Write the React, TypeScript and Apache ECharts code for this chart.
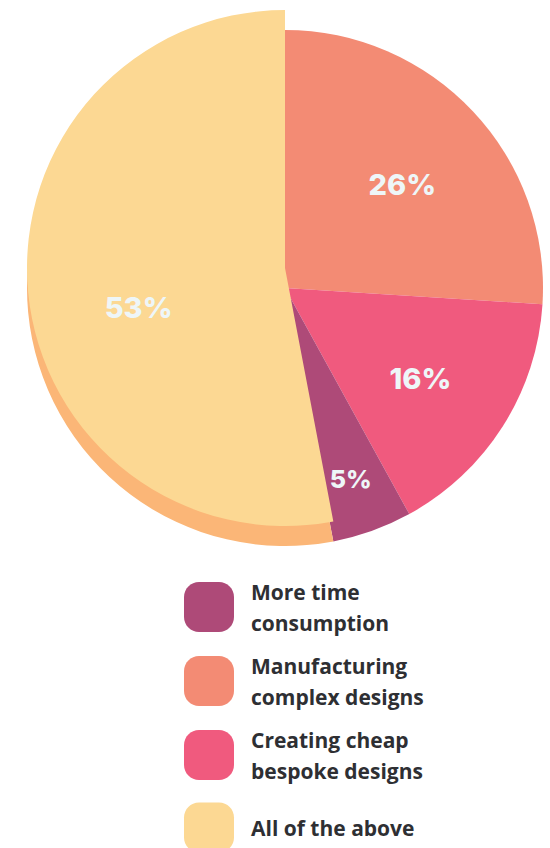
import React, { useEffect, useRef } from "react";
import * as echarts from "echarts";

// Pie slices in drawing order (clockwise from 12 o'clock)
const sliceNames = [
  "Manufacturing complex designs",
  "Creating cheap bespoke designs",
  "More time consumption",
  "All of the above",
];
const sliceValues = [26, 16, 5, 53];
const sliceColors = ["#F38B74", "#F05A7E", "#AE4A78", "#FCD893"];
const shadowColor = "#FBB677";

// Legend order and wrapped labels
const legendOrder = [
  "More time consumption",
  "Manufacturing complex designs",
  "Creating cheap bespoke designs",
  "All of the above",
];
const legendLabels: Record<string, string> = {
  "More time consumption": "More time\nconsumption",
  "Manufacturing complex designs": "Manufacturing\ncomplex designs",
  "Creating cheap bespoke designs": "Creating cheap\nbespoke designs",
  "All of the above": "All of the above",
};

// label placement tweaks (style only)
const labelOffsets: number[][] = [
  [21, -13],
  [24, 20],
  [21, 67],
  [-15, 27],
];
const labelSizes = [29, 29, 25, 29];

const ROUND_RECT =
  "path://M15,0H35C43.28,0 50,6.72 50,15V35C50,43.28 43.28,50 35,50H15C6.72,50 0,43.28 0,35V15C0,6.72 6.72,0 15,0Z";

export default function App() {
  const ref = useRef<HTMLDivElement>(null);

  useEffect(() => {
    document.body.style.margin = "0";
    if (!ref.current) return;
    const chart = echarts.init(ref.current, undefined, { renderer: "svg" });

    const labelBase = {
      show: true,
      position: "inside" as const,
      formatter: "{c}%",
      color: "#EEF6F8",
      fontFamily: "Inter",
      fontWeight: 800 as any,
    };

    const baseData = sliceNames.map((name, i) => {
      const isTop = i === 3;
      return {
        name,
        value: sliceValues[i],
        itemStyle: { color: isTop ? shadowColor : sliceColors[i] },
        label: isTop
          ? { show: false }
          : { ...labelBase, fontSize: labelSizes[i], offset: labelOffsets[i] },
      };
    });

    const topData = sliceNames.map((name, i) => {
      const isTop = i === 3;
      return {
        name,
        value: sliceValues[i],
        itemStyle: { color: isTop ? sliceColors[i] : "rgba(0,0,0,0)" },
        label: isTop
          ? { ...labelBase, fontSize: labelSizes[i], offset: labelOffsets[i] }
          : { show: false },
      };
    });

    const option: any = {
      animation: false,
      legend: {
        orient: "vertical",
        left: 184,
        top: 576,
        width: 360,
        height: 320,
        padding: 0,
        itemWidth: 50,
        itemHeight: 50,
        itemGap: 12,
        selectedMode: false,
        icon: ROUND_RECT,
        formatter: (name: string) => legendLabels[name] || name,
        textStyle: {
          fontFamily: "Open Sans",
          fontWeight: "bold",
          fontSize: 21,
          lineHeight: 31,
          color: "#2E2F33",
          padding: [0, 0, 0, 12],
        },
        data: legendOrder.map((name, k) => {
          const idx = sliceNames.indexOf(name);
          const item: any = {
            name,
            itemStyle: { color: sliceColors[idx] },
          };
          if (k === legendOrder.length - 1) {
            item.textStyle = { padding: [14, 0, 14, 12] };
          }
          return item;
        }),
      },
      series: [
        {
          type: "pie",
          center: [285, 288],
          radius: 258,
          startAngle: 90,
          clockwise: true,
          silent: true,
          labelLine: { show: false },
          itemStyle: { borderWidth: 0 },
          emphasis: { disabled: true },
          data: baseData,
        },
        {
          type: "pie",
          center: [285, 268],
          radius: 258,
          startAngle: 90,
          clockwise: true,
          silent: true,
          z: 3,
          labelLine: { show: false },
          itemStyle: { borderWidth: 0 },
          emphasis: { disabled: true },
          data: topData,
        },
      ],
    };

    chart.setOption(option);
    return () => chart.dispose();
  }, []);

  return <div ref={ref} style={{ width: 550, height: 848 }} />;
}
